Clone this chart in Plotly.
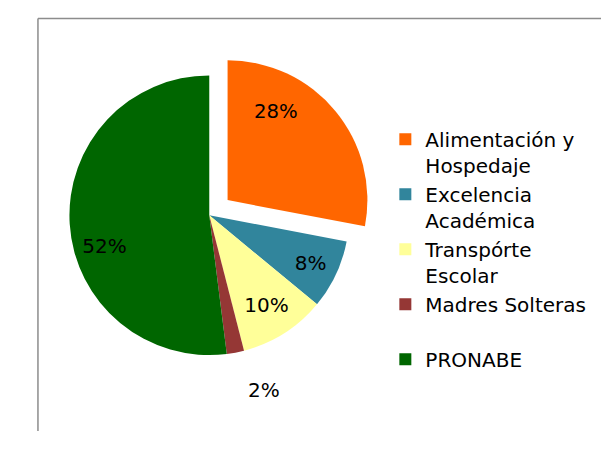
import plotly.graph_objects as go

labels = ["Alimentación y<br>Hospedaje", "Excelencia<br>Académica", "Transpórte<br>Escolar",
          "Madres Solteras<br> ", "PRONABE"]
values = [28, 8, 10, 2, 52]
colors = ["#FF6600", "#31859C", "#FFFF99", "#953735", "#006600"]
pulls = [0.17, 0, 0, 0, 0]
text_pos = ["inside", "inside", "inside", "outside", "inside"]

NB = "\u00a0"
# label text; blank lines / trailing spaces nudge the visible text inside its slice
pct_text = [
    "%{percent:.0%}" + NB * 4 + ("<br>" + NB) * 3,
    "%{percent:.0%}",
    "%{percent:.0%}",
    NB + "<br>%{percent:.0%}",
    (NB + "<br>") * 2 + "%{percent:.0%}" + NB * 11,
]

FONT = "DejaVu Sans"
FS = 20
W, H = 601, 446   # page body has an 8px margin; keep the div inside the window
OFF = 8
SHIFT = 4         # pull everything a little left

cx, cy, r = 193 - OFF - SHIFT, 221 - OFF, 151
half = r * (1 + max(pulls))
dom_x = [(cx - half) / W, (cx + half) / W]
dom_y = [(H - cy - half) / H, (H - cy + half) / H]

fig = go.Figure(go.Pie(
    labels=labels, values=values,
    marker=dict(colors=colors),
    pull=pulls,
    sort=False, direction="clockwise", rotation=0,
    texttemplate=pct_text,
    textposition=text_pos,
    insidetextorientation="horizontal",
    textfont=dict(family=FONT, size=FS, color="#000000"),
    domain=dict(x=dom_x, y=dom_y),
    hoverinfo="label+percent",
))

# chart frame (left, top, right; bottom runs off the picture)
fx0, fx1, fy1 = (13 - OFF - SHIFT) / W, (607 - OFF - SHIFT) / W, (H - 0.5) / H
frame = dict(color="#8c8c8c", width=1.5)
fig.add_shape(type="line", xref="paper", yref="paper", x0=fx0, x1=fx0, y0=0, y1=fy1, line=frame)
fig.add_shape(type="line", xref="paper", yref="paper", x0=fx0, x1=fx1, y0=fy1, y1=fy1, line=frame)
fig.add_shape(type="line", xref="paper", yref="paper", x0=fx1, x1=fx1, y0=0, y1=fy1, line=frame)

fig.update_layout(
    width=W, height=H,
    margin=dict(l=0, r=0, t=0, b=0),
    paper_bgcolor="white",
    plot_bgcolor="white",
    font=dict(family=FONT, size=FS, color="#000000"),
    legend=dict(x=(378 - OFF - SHIFT) / W, y=(H - (118 - OFF)) / H,
                xanchor="left", yanchor="top",
                valign="top", bgcolor="rgba(0,0,0,0)",
                font=dict(family=FONT, size=FS, color="#000000"),
                itemwidth=30),
)

fig.write_html("out.html")
